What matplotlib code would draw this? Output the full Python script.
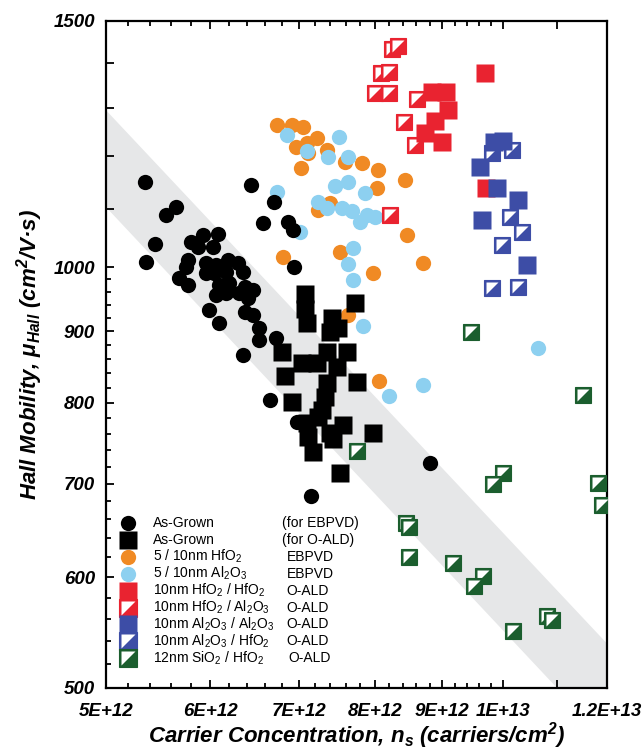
import matplotlib
matplotlib.use('Agg')
import matplotlib.pyplot as plt
from matplotlib.ticker import FixedLocator, FixedFormatter, NullFormatter

plt.rcParams['font.family'] = ['Liberation Sans', 'DejaVu Sans']

# carrier concentration in units of 1E12 carriers/cm2, Hall mobility in cm2/V.s
# As-Grown (for EBPVD)
grown_ebpvd_ns = [5.35, 5.65, 5.55, 5.45, 5.36, 5.92, 6.08, 5.80, 5.87, 6.03, 5.77, 5.75,
                  5.95, 6.06, 6.19, 6.30, 5.95, 6.04, 6.17, 6.35, 5.68, 5.77, 6.09, 6.20,
                  6.38, 6.06, 6.17, 6.31, 6.41, 5.99, 6.38, 6.47, 6.09, 6.53, 6.53, 6.73,
                  6.35, 6.44, 6.71, 6.58, 6.87, 6.93, 6.94, 6.46, 6.66, 6.98, 7.15, 8.81]
grown_ebpvd_mu = [1150, 1104, 1090, 1039, 1009, 1054, 1056, 1042, 1034, 1034, 1012, 1000,
                  1007, 1003, 1012, 1007, 990, 990, 992, 992, 982, 971, 971, 974,
                  968, 955, 958, 958, 950, 932, 929, 924, 912, 905, 887, 890,
                  865, 1145, 1113, 1075, 1077, 1063, 1000, 963, 804, 775, 686, 724]

# As-Grown (for O-ALD)
grown_oald_ns = [7.08, 7.08, 7.10, 7.73, 7.42, 7.39, 7.50, 7.36, 7.62, 6.80, 7.04, 7.23,
                 7.49, 6.84, 7.36, 7.75, 6.92, 7.33, 7.29, 7.10, 7.24, 7.56, 7.12, 7.39,
                 7.18, 7.97, 7.53, 7.43]
grown_oald_mu = [957, 934, 912, 943, 919, 899, 905, 870, 869, 869, 854, 854,
                 848, 836, 826, 828, 801, 808, 790, 774, 781, 771, 756, 761,
                 738, 761, 712, 753]

# 5 / 10nm HfO2, EBPVD
hfo2_ebpvd_ns = [6.74, 6.92, 7.05, 7.23, 6.97, 7.10, 7.12, 7.36, 7.59, 7.82, 8.04, 8.43,
                 8.03, 7.03, 7.39, 7.24, 8.46, 6.81, 7.53, 7.97, 8.70, 7.63, 8.06]
hfo2_ebpvd_mu = [1264, 1264, 1260, 1238, 1219, 1227, 1207, 1213, 1189, 1187, 1174, 1154,
                 1139, 1178, 1112, 1099, 1054, 1017, 1025, 990, 1007, 924, 829]

# 5 / 10nm Al2O3, EBPVD
al2o3_ebpvd_ns = [6.86, 7.10, 7.51, 7.37, 7.63, 7.46, 7.63, 7.86, 7.24, 7.36, 7.55, 7.68,
                  7.79, 7.89, 8.00, 6.74, 7.02, 7.70, 7.63, 7.70, 7.83, 8.20, 8.70, 10.63]
al2o3_ebpvd_mu = [1243, 1211, 1240, 1199, 1199, 1143, 1151, 1130, 1113, 1102, 1102, 1097,
                  1077, 1090, 1086, 1132, 1060, 1032, 1005, 979, 907, 809, 824, 875]

# 10nm HfO2 / HfO2, O-ALD
hfo2_hfo2_ns = [9.70, 8.84, 9.06, 9.09, 8.89, 8.73, 8.99, 9.71]
hfo2_hfo2_mu = [1377, 1334, 1334, 1295, 1272, 1247, 1229, 1139]

# 10nm HfO2 / Al2O3, O-ALD
hfo2_al2o3_ns = [8.24, 8.33, 8.08, 8.20, 8.00, 8.20, 8.61, 8.42, 8.58, 8.21]
hfo2_al2o3_mu = [1433, 1440, 1377, 1379, 1332, 1332, 1319, 1270, 1223, 1090]

# 10nm Al2O3 / Al2O3, O-ALD
al2o3_al2o3_ns = [9.85, 10.01, 9.61, 9.90, 10.27, 9.64, 10.43]
al2o3_al2o3_mu = [1229, 1231, 1179, 1139, 1117, 1081, 1004]

# 10nm Al2O3 / HfO2, O-ALD
al2o3_hfo2_ns = [9.81, 10.16, 10.13, 10.34, 9.99, 9.81, 10.27]
al2o3_hfo2_mu = [1207, 1213, 1086, 1060, 1037, 966, 968]

# 12nm SiO2 / HfO2, O-ALD
sio2_hfo2_ns = [9.46, 11.51, 10.01, 9.83, 11.81, 11.89, 8.45, 8.49, 8.49, 9.17, 9.66,
                9.51, 10.18, 10.80, 10.90, 7.75]
sio2_hfo2_mu = [899, 810, 713, 700, 701, 676, 656, 652, 620, 614, 601,
                591, 549, 563, 559, 739]

# grey guide band (corner values)
band_ns = [5.0, 12.0, 12.0, 5.0]
band_mu = [1295, 538, 458, 1104]

BLACK = '#000000'
ORANGE = '#F08A24'
LBLUE = '#8DD0F0'
RED = '#E92330'
BLUE = '#3D4DA6'
GREEN = '#1B5E2E'
TRI = [(-1, -1), (-1, 1), (1, 1)]
MS_C = 11
MS_S = 12.3


def e12(v):
    return [a * 1e12 for a in v]


def half_square(ax, xs, ys, color, ms=11.8, **kw):
    # square with white upper-left triangle
    for x, y in zip(xs, ys):
        ax.plot(x, y, ls='none', marker='s', ms=ms, mfc=color, mec=color, mew=0.8, zorder=4, **kw)
        ax.plot(x, y, ls='none', marker=TRI, ms=ms * 0.78, mfc='white', mec='none', zorder=4, **kw)


fig = plt.figure(figsize=(6.43, 7.52), dpi=100)
ax = fig.add_axes([106 / 643, 1 - 688 / 752, 501 / 643, 667 / 752])
ax.set_xscale('log')
ax.set_yscale('log')

ax.fill(e12(band_ns), band_mu, color='#E6E7E8', lw=0, zorder=0)

ax.plot(e12(hfo2_ebpvd_ns), hfo2_ebpvd_mu, ls='none', marker='o', ms=MS_C, mfc=ORANGE, mec='none', zorder=2)
ax.plot(e12(al2o3_ebpvd_ns), al2o3_ebpvd_mu, ls='none', marker='o', ms=MS_C, mfc=LBLUE, mec='none', zorder=2)
ax.plot(e12(grown_ebpvd_ns), grown_ebpvd_mu, ls='none', marker='o', ms=MS_C, mfc=BLACK, mec='none', zorder=3)
ax.plot(e12(grown_oald_ns), grown_oald_mu, ls='none', marker='s', ms=MS_S, mfc=BLACK, mec='none', zorder=3)
half_square(ax, e12(hfo2_al2o3_ns), hfo2_al2o3_mu, RED)
ax.plot(e12(hfo2_hfo2_ns), hfo2_hfo2_mu, ls='none', marker='s', ms=MS_S, mfc=RED, mec='none', zorder=4)
half_square(ax, e12(al2o3_hfo2_ns), al2o3_hfo2_mu, BLUE)
ax.plot(e12(al2o3_al2o3_ns), al2o3_al2o3_mu, ls='none', marker='s', ms=MS_S, mfc=BLUE, mec='none', zorder=4)
half_square(ax, e12(sio2_hfo2_ns), sio2_hfo2_mu, GREEN)

ax.set_xlim(5e12, 1.2e13)
ax.set_ylim(500, 1500)

xmaj = [5e12, 6e12, 7e12, 8e12, 9e12, 1e13, 1.1e13, 1.2e13]
xlab = ['5E+12', '6E+12', '7E+12', '8E+12', '9E+12', '1E+13', '', '1.2E+13']
xmin = [v * 1e11 for v in range(52, 100, 2) if v % 10 != 0]
ymaj = [500, 600, 700, 800, 900, 1000, 1100, 1200, 1300, 1400, 1500]
ylab = ['500', '600', '700', '800', '900', '1000', '', '', '', '', '1500']
ymin = [v for v in range(520, 1000, 20) if v % 100 != 0]

ax.xaxis.set_major_locator(FixedLocator(xmaj))
ax.xaxis.set_major_formatter(FixedFormatter(xlab))
ax.xaxis.set_minor_locator(FixedLocator(xmin))
ax.xaxis.set_minor_formatter(NullFormatter())
ax.yaxis.set_major_locator(FixedLocator(ymaj))
ax.yaxis.set_major_formatter(FixedFormatter(ylab))
ax.yaxis.set_minor_locator(FixedLocator(ymin))
ax.yaxis.set_minor_formatter(NullFormatter())

ax.tick_params(which='both', direction='in', top=True, right=False, width=1.3)
ax.tick_params(which='major', length=6)
ax.tick_params(which='minor', length=3.5)
ax.tick_params(axis='x', which='major', pad=11)
ax.tick_params(axis='y', which='major', pad=8)
for lab in ax.get_xticklabels() + ax.get_yticklabels():
    lab.set_fontsize(13.5)
    lab.set_fontweight('bold')
    lab.set_fontstyle('italic')
for sp in ax.spines.values():
    sp.set_linewidth(1.6)

ax.set_xlabel('Carrier Concentration, n$_\\mathregular{s}$ (carriers/cm$^\\mathregular{2}$)',
              fontsize=16, fontweight='bold', fontstyle='italic', labelpad=0)
ax.set_ylabel('Hall Mobility, \u03bc$_\\mathregular{Hall}$ (cm$^\\mathregular{2}$/V\u00b7s)',
              fontsize=16, fontweight='bold', fontstyle='italic', labelpad=6)

# legend drawn by hand (two text columns)
rows = [
    ('circle', BLACK, 'As-Grown', '(for EBPVD)', 0),
    ('square', BLACK, 'As-Grown', '(for O-ALD)', 0),
    ('circle', ORANGE, '5 / 10nm HfO$_\\mathregular{2}$', 'EBPVD', 5),
    ('circle', LBLUE, '5 / 10nm Al$_\\mathregular{2}$O$_\\mathregular{3}$', 'EBPVD', 5),
    ('square', RED, '10nm HfO$_\\mathregular{2}$ / HfO$_\\mathregular{2}$', 'O-ALD', 4),
    ('half', RED, '10nm HfO$_\\mathregular{2}$ / Al$_\\mathregular{2}$O$_\\mathregular{3}$', 'O-ALD', 4),
    ('square', BLUE, '10nm Al$_\\mathregular{2}$O$_\\mathregular{3}$ / Al$_\\mathregular{2}$O$_\\mathregular{3}$', 'O-ALD', 4),
    ('half', BLUE, '10nm Al$_\\mathregular{2}$O$_\\mathregular{3}$ / HfO$_\\mathregular{2}$', 'O-ALD', 4),
    ('half', GREEN, '12nm SiO$_\\mathregular{2}$ / HfO$_\\mathregular{2}$', 'O-ALD', 6),
]
tr = ax.transAxes
for i, (kind, col, lab1, lab2, dx) in enumerate(rows):
    yy = (688 - (523 + 16.9 * i)) / 667
    xm = (128 - 106) / 501
    if kind == 'circle':
        ax.plot(xm, yy, marker='o', ms=MS_C, mfc=col, mec='none', transform=tr, clip_on=False, zorder=5)
    elif kind == 'square':
        ax.plot(xm, yy, marker='s', ms=MS_S, mfc=col, mec='none', transform=tr, clip_on=False, zorder=5)
    else:
        ax.plot(xm, yy, marker='s', ms=MS_S, mfc=col, mec=col, mew=0.8, transform=tr, clip_on=False, zorder=5)
        ax.plot(xm, yy, marker=TRI, ms=MS_S * 0.78, mfc='white', mec='none', transform=tr, clip_on=False, zorder=5)
    ax.text((153 - 106) / 501, yy, lab1, transform=tr, fontsize=10, va='center', ha='left')
    ax.text((282 + dx - 106) / 501, yy, lab2, transform=tr, fontsize=10, va='center', ha='left')

fig.savefig('out.png', dpi=100)
